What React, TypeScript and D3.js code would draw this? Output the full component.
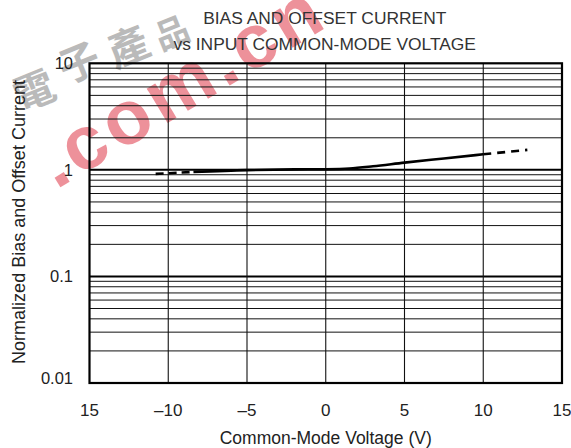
import React from "react";
import * as d3 from "d3";

const W = 571;
const H = 448;

// Data
const solidV = [-8.4, -5, -2, 0, 1.5, 3, 5, 7.5, 10];
const solidVal = [0.957, 0.995, 1.01, 1.015, 1.03, 1.08, 1.17, 1.28, 1.4];
const dashLeftV = [-10.8, -8.4];
const dashLeftVal = [0.917, 0.957];
const dashRightV = [10, 12.8];
const dashRightVal = [1.4, 1.54];

const xTicks = [-15, -10, -5, 0, 5, 10, 15];
const xTickLabels = ["15", "\u201310", "\u20135", "0", "5", "10", "15"];
const yTicks = [0.01, 0.1, 1, 10];
const yTickLabels = ["0.01", "0.1", "1", "10"];
const titleLines = ["BIAS AND OFFSET CURRENT", "vs INPUT COMMON-MODE VOLTAGE"];
const xLabel = "Common-Mode Voltage (V)";
const yLabel = "Normalized Bias and Offset Current";
const wmChars = ["電", "子", "產", "品"];
const wmText = ".com.cn";

const FONT = "'Liberation Sans', Arial, Helvetica, sans-serif";

export default function App() {
  const left = 89.5, right = 562, top = 63.3, bottom = 383;
  const x = d3.scaleLinear().domain([-15, 15]).range([left, right]);
  const y = d3.scaleLog().domain([0.01, 10]).range([bottom, top]);

  const minor: number[] = [];
  [0.01, 0.1, 1].forEach((d) => {
    for (let k = 2; k <= 9; k++) minor.push(d * k);
  });

  const line = d3
    .line<[number, number]>()
    .x((d) => x(d[0]))
    .y((d) => y(d[1]))
    .curve(d3.curveMonotoneX);

  const solid = solidV.map((v, i) => [v, solidVal[i]] as [number, number]);
  const dl = dashLeftV.map((v, i) => [v, dashLeftVal[i]] as [number, number]);
  const dr = dashRightV.map((v, i) => [v, dashRightVal[i]] as [number, number]);

  const cx = (left + right) / 2;
  const wmPos: [number, number][] = [
    [33, 88],
    [78, 60],
    [127, 44],
    [171, 31],
  ];

  return (
    <svg
      width={W}
      height={H}
      style={{ position: "absolute", left: 0, top: 0, background: "#fff" }}
      fontFamily={FONT}
    >
      <rect x={0} y={0} width={W} height={H} fill="#fff" />
      {/* watermark */}
      <g opacity={0.5}>
        {wmChars.map((c, i) => (
          <text
            key={"wm" + i}
            transform={`translate(${wmPos[i][0]},${wmPos[i][1]}) rotate(-22)`}
            fontSize={i === 3 ? 34 : 41}
            fontWeight={700}
            fill="#777"
            textAnchor="middle"
            dominantBaseline="central"
            fontFamily="'Noto Sans CJK TC', sans-serif"
          >
            {c}
          </text>
        ))}
      </g>
      <g transform="translate(56,190) rotate(-31)" opacity={0.55}>
        <text x={0} y={0} fontSize={76} fontWeight={700} letterSpacing={5} fill="#e03848">
          {wmText}
        </text>
      </g>

      {/* minor horizontal grid */}
      {minor.map((v, i) => (
        <line key={"m" + i} x1={left} x2={right} y1={y(v)} y2={y(v)} stroke="#111" strokeWidth={1} />
      ))}
      {/* decade lines */}
      {[0.1, 1].map((v) => (
        <line key={"d" + v} x1={left} x2={right} y1={y(v)} y2={y(v)} stroke="#000" strokeWidth={2} />
      ))}
      {/* vertical grid */}
      {xTicks.slice(1, -1).map((v) => (
        <line key={"v" + v} x1={x(v)} x2={x(v)} y1={top} y2={bottom} stroke="#111" strokeWidth={1.1} />
      ))}
      {/* border */}
      <rect x={left} y={top} width={right - left} height={bottom - top} fill="none" stroke="#000" strokeWidth={2.2} />

      {/* curve */}
      <path d={line(solid) || ""} fill="none" stroke="#000" strokeWidth={2.6} />
      <path d={line(dl) || ""} fill="none" stroke="#000" strokeWidth={2.6} strokeDasharray="8,5" />
      <path d={line(dr) || ""} fill="none" stroke="#000" strokeWidth={2.6} strokeDasharray="8,6" />

      {/* y tick labels */}
      {yTicks.map((v, i) => (
        <text
          key={"yt" + i}
          x={73}
          y={Math.min(y(v), 378) + 6}
          fontSize={16.5}
          textAnchor="end"
          fill="#222"
        >
          {yTickLabels[i]}
        </text>
      ))}
      {/* x tick labels */}
      {xTicks.map((v, i) => (
        <text key={"xt" + i} x={x(v)} y={416} fontSize={17} textAnchor="middle" fill="#222">
          {xTickLabels[i]}
        </text>
      ))}
      {/* title */}
      {titleLines.map((t, i) => (
        <text key={"t" + i} x={cx - 1} y={24 + i * 26} fontSize={17.4} textAnchor="middle" fill="#333">
          {t}
        </text>
      ))}
      {/* axis labels */}
      <text x={cx} y={444} fontSize={17.5} textAnchor="middle" fill="#222">
        {xLabel}
      </text>
      <text transform={`translate(25,222) rotate(-90)`} fontSize={18} textAnchor="middle" fill="#222">
        {yLabel}
      </text>
    </svg>
  );
}
